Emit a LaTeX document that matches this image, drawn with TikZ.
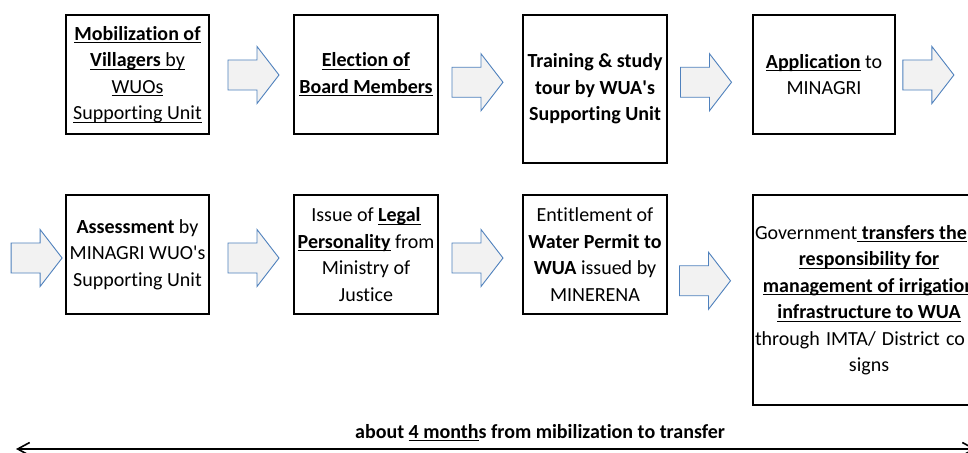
\documentclass[tikz,border=0pt]{standalone}
\usepackage{fontspec}
\setmainfont[Ligatures={TeX,CommonOff}]{Carlito}
\usetikzlibrary{arrows.meta,calc}
\definecolor{arrowblue}{HTML}{4F81BD}
\definecolor{arrowfill}{HTML}{F2F2F2}
\newcommand\ulx[1]{\setbox0\hbox{#1}\rlap{\rule[-3.2pt]{\wd0}{1.2pt}}\box0\relax}
\newcommand\apos{\textquotesingle}
\begin{document}
\begin{tikzpicture}[x=1pt,y=-1pt,
  stepbox/.style={draw=black,line width=1.8pt,inner sep=0pt,align=center,
    font=\fontsize{20}{26.5}\selectfont},
  barrow/.pic={\draw[draw=arrowblue,fill=arrowfill,line width=0.9pt,line join=miter]
    (-25.5,-15) -- (3.5,-15) -- (3.5,-28.5) -- (25.5,0) -- (3.5,28.5) -- (3.5,15) -- (-25.5,15) -- cycle;},
  spanline/.style={line width=1.5pt,
    {Straight Barb[length=12pt,width=13pt,line width=1.6pt]}-{Straight Barb[length=12pt,width=13pt,line width=1.6pt]}}
]
\useasboundingbox (0,0) rectangle (968,452);
\clip (0,0) rectangle (968,452);
\fill[white] (0,0) rectangle (968,452);

% row 1
\node[stepbox,minimum width=143pt,minimum height=119pt] (b1) at (137.5,74.5)
  {\ulx{\bfseries Mobilization of}\\\ulx{\textbf{Villagers} by}\\\ulx{WUOs}\\\ulx{Supporting Unit}};
\node[stepbox,minimum width=144pt,minimum height=119pt] (b2) at (366,74.5)
  {\ulx{\bfseries Election of}\\\ulx{\bfseries Board Members}};
\node[stepbox,minimum width=144pt,minimum height=148pt] (b3) at (595,89)
  {\textbf{Training \& study}\\\textbf{tour by WUA\apos s}\\\textbf{Supporting Unit}};
\node[stepbox,minimum width=142pt,minimum height=119pt] (b4) at (824,74.5)
  {\ulx{\bfseries Application} to\\MINAGRI};

% row 2
\node[stepbox,minimum width=143pt,minimum height=119pt] (b5) at (137.5,254.5)
  {\textbf{Assessment} by\\MINAGRI WUO\apos s\\Supporting Unit};
\node[stepbox,minimum width=144pt,minimum height=119pt] (b6) at (366,254.5)
  {Issue of \ulx{\bfseries Legal}\\\ulx{\bfseries Personality} from\\Ministry of\\Justice};
\node[stepbox,minimum width=144pt,minimum height=119pt] (b7) at (595,254.5)
  {Entitlement of\\\textbf{Water Permit to}\\\textbf{WUA} issued by\\MINERENA};
\node[stepbox,minimum width=232pt,minimum height=210pt] (b8) at (869,300)
  {\makebox[228pt][l]{Government\ulx{\bfseries\ transfers the}}\\\ulx{\bfseries responsibility for}\\\ulx{\bfseries management of irrigation}\\\ulx{\bfseries infrastructure to WUA}\\\makebox[228pt][l]{\makebox[210pt][s]{through IMTA/ District co}}\\signs};

% block arrows
\pic at ($(b1.east)!0.5!(b2.west)+(2,0.5)$) {barrow};
\pic at ($(b2.east)!0.5!(b3.west)+(-3,0.5)$) {barrow};
\pic at ($(b3.east)!0.5!(b4.west)+(-4,0.5)$) {barrow};
\pic at ($(b4.east)+(32.5,0.5)$) {barrow};
\pic at ($(b5.west)+(-28.5,3.5)$) {barrow};
\pic at ($(b5.east)!0.5!(b6.west)+(2,3.5)$) {barrow};
\pic at ($(b6.east)!0.5!(b7.west)+(-3,3.5)$) {barrow};
\pic at ($(b7.east)!0.5!(b8.west)+(-5,3.5)$) {barrow};

% time span
\coordinate (spanL) at (16,449);
\coordinate (spanR) at (976,449);
\draw[spanline] (spanL) -- (spanR);
\node[anchor=base,font=\bfseries\fontsize{20}{24}\selectfont,inner sep=0pt] (spanlabel) at (540,438)
  {about \ulx{4 month}s from mibilization to transfer};
\end{tikzpicture}
\end{document}
